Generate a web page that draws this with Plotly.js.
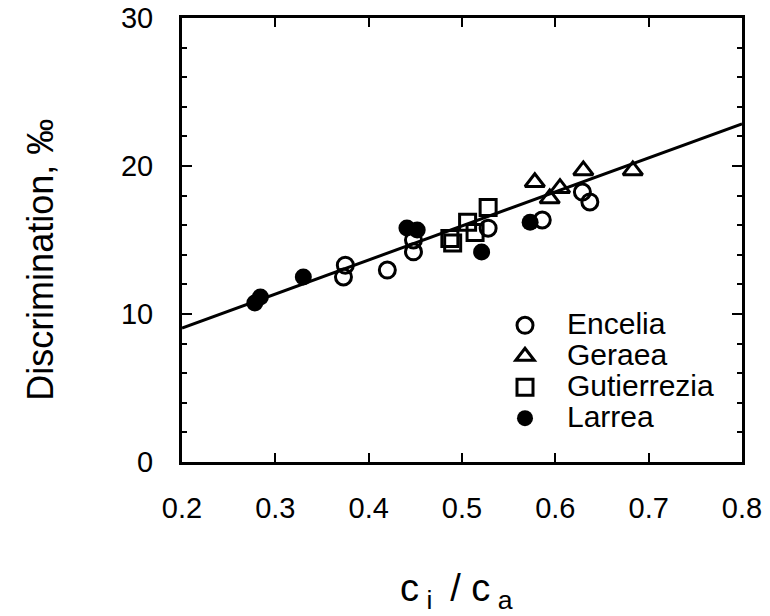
<!DOCTYPE html>
<html>
<head>
<meta charset="utf-8">
<script src="https://cdn.plot.ly/plotly-3.0.1.min.js"></script>
<style>html,body{margin:0;padding:0;background:#fff;}#chart{width:770px;height:616px;}</style>
</head>
<body>
<div id="chart"></div>
<script>
// Data
const enceliaX = [0.375, 0.373, 0.420, 0.448, 0.448, 0.528, 0.586, 0.629, 0.637];
const enceliaY = [13.3, 12.5, 12.97, 15.0, 14.2, 15.8, 16.35, 18.24, 17.57];

const geraeaX = [0.578, 0.594, 0.605, 0.630, 0.683];
const geraeaY = [18.9, 17.8, 18.5, 19.7, 19.7];

const gutierreziaX = [0.487, 0.490, 0.506, 0.514, 0.528];
const gutierreziaY = [15.1, 14.8, 16.2, 15.5, 17.2];

const larreaX = [0.278, 0.284, 0.330, 0.441, 0.452, 0.521, 0.573];
const larreaY = [10.74, 11.15, 12.5, 15.81, 15.68, 14.19, 16.2];

const fitX = [0.2, 0.8];
const fitY = [9.05, 22.85];

const seriesNames = ['Encelia', 'Geraea', 'Gutierrezia', 'Larrea'];

const xTicks = [0.2, 0.3, 0.4, 0.5, 0.6, 0.7, 0.8];
const xTickText = ['0.2', '0.3', '0.4', '0.5', '0.6', '0.7', '0.8'];
const yTicks = [0, 10, 20, 30];
const yTickText = ['0', '10', '20', '30'];

const FONT = 'Liberation Sans, Arial, Helvetica, sans-serif';
const legendName = n => '<span style="font-size:30px">' + n + '</span>';

const traces = [
  {x: fitX, y: fitY, mode: 'lines', line: {color: '#000', width: 3}, showlegend: false, hoverinfo: 'skip'},
  {x: enceliaX, y: enceliaY, mode: 'markers', name: legendName(seriesNames[0]),
   marker: {symbol: 'circle-open', size: 16, color: '#000', line: {width: 3, color: '#000'}}},
  {x: geraeaX, y: geraeaY, mode: 'markers', name: legendName(seriesNames[1]),
   marker: {symbol: 'triangle-up-open', size: 17, color: '#000', line: {width: 3, color: '#000'}}},
  {x: gutierreziaX, y: gutierreziaY, mode: 'markers', name: legendName(seriesNames[2]),
   marker: {symbol: 'square-open', size: 16, color: '#000', line: {width: 3, color: '#000'}}},
  {x: larreaX, y: larreaY, mode: 'markers', name: legendName(seriesNames[3]),
   marker: {symbol: 'circle', size: 17, color: '#000', line: {width: 0}}}
];

const layout = {
  width: 770, height: 616,
  margin: {l: 182, r: 28, t: 18, b: 154},
  paper_bgcolor: '#fff', plot_bgcolor: '#fff',
  font: {family: FONT, color: '#000', size: 28},
  showlegend: true,
  legend: {x: 0.5375, y: 0.354, xanchor: 'left', yanchor: 'top',
           bgcolor: 'rgba(0,0,0,0)', font: {family: FONT, size: 21.5, color: '#000'},
           itemwidth: 74, tracegroupgap: 0},
  xaxis: {
    range: [0.2, 0.8], tickvals: xTicks, ticktext: xTickText,
    ticks: 'inside', ticklen: 9, tickwidth: 2, tickcolor: '#000',
    showline: true, linewidth: 3, linecolor: '#000', mirror: 'ticks',
    showgrid: false, zeroline: false, ticklabelstandoff: 18,
    tickfont: {family: FONT, size: 29, color: '#000'}
  },
  yaxis: {
    range: [0, 30], tickvals: yTicks, ticktext: yTickText,
    ticks: 'inside', ticklen: 10, tickwidth: 2, tickcolor: '#000',
    minor: {dtick: 2, ticks: 'inside', ticklen: 5, tickwidth: 2, tickcolor: '#000'},
    showline: true, linewidth: 3, linecolor: '#000', mirror: 'ticks',
    showgrid: false, zeroline: false, ticklabelstandoff: 20,
    tickfont: {family: FONT, size: 29, color: '#000'}
  },
  annotations: [
    {text: 'Discrimination, ‰', xref: 'paper', yref: 'paper',
     x: -0.252, y: 0.455, xanchor: 'center', yanchor: 'middle', textangle: -90,
     showarrow: false, font: {family: FONT, size: 36, color: '#000'}},
    {text: 'c<sub>&nbsp;i&nbsp;</sub>&nbsp;/&nbsp;c<sub>&nbsp;a</sub>', xref: 'paper', yref: 'paper',
     x: 0.49, y: -0.29, xanchor: 'center', yanchor: 'middle',
     showarrow: false, font: {family: FONT, size: 38, color: '#000'}}
  ]
};

Plotly.newPlot('chart', traces, layout, {staticPlot: true, displayModeBar: false});
</script>
</body>
</html>
